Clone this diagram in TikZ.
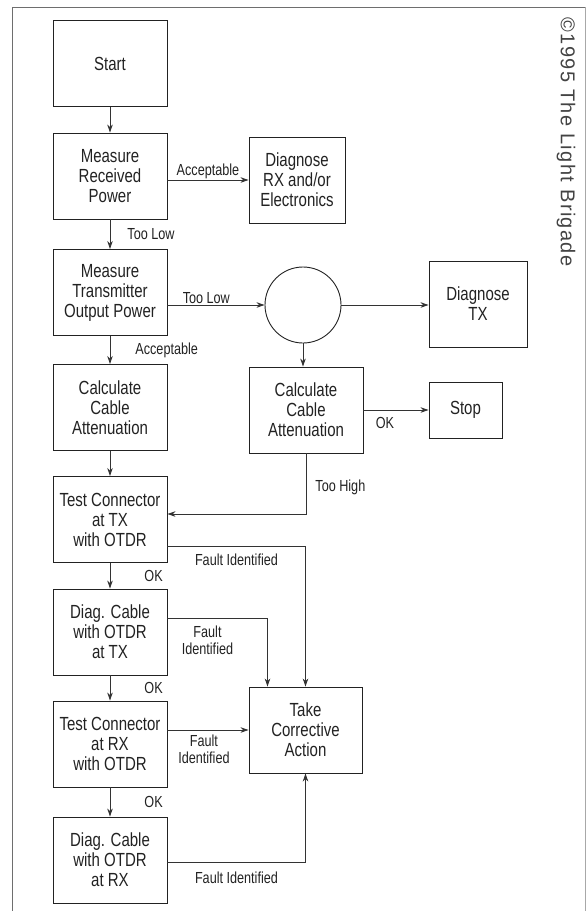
\documentclass[tikz,border=0pt]{standalone}
\usepackage{fontspec}
\setmainfont{Liberation Sans}
\newfontfamily\condfont[FakeStretch=0.79]{Liberation Sans}
\newfontfamily\markfont[LetterSpace=7]{Liberation Sans}
\usetikzlibrary{arrows.meta}
\definecolor{ink}{HTML}{222222}
\definecolor{wire}{HTML}{333333}
\definecolor{rule}{HTML}{6E6E6E}
\begin{document}
\begin{tikzpicture}[x=1pt, y=-1pt,
        b/.style={rectangle, draw=ink, line width=0.9pt, minimum width=114pt, minimum height=86pt,
                  align=center, inner sep=2pt, text=ink, font=\condfont\fontsize{19}{20}\selectfont},
        lbl/.style={inner sep=1pt, align=center, text=ink, font=\condfont\fontsize{16}{17.5}\selectfont},
        arr/.style={draw=wire, line width=0.85pt, -{Stealth[length=8pt, width=5.5pt]}}
    ]
        \useasboundingbox (0,0) rectangle (586,911);
        \draw[rule, line width=1pt] (12,911) -- (12,7) -- (585,7);
        \draw[rule!60, line width=1pt] (585,7) -- (585,911);
        \node[rotate=-90, text=ink!85, font=\markfont\fontsize{20}{20}\selectfont] (copy) at (566,142) {©1995 The Light Brigade};

        \node[b] (start) at (110,63.5)  {Start};
        \node[b] (mrp)   at (110,176)   {Measure\\Received\\Power};
        \node[b, minimum width=96pt] (drx) at (297,180) {Diagnose\\RX and/or\\Electronics};
        \node[b] (mtop)  at (110,292.5) {Measure\\Transmitter\\Output Power};
        \node[circle, draw=ink, line width=0.9pt, minimum size=76pt, inner sep=0pt] (dec) at (303,305) {};
        \node[b, minimum width=98pt] (dtx) at (478,304) {Diagnose\\TX};
        \node[b] (lcalc) at (110,407.5) {Calculate\\Cable\\Attenuation};
        \node[b] (rcalc) at (306,410)   {Calculate\\Cable\\Attenuation};
        \node[b, minimum width=73pt, minimum height=56pt] (stop) at (465.5,410) {Stop};
        \node[b] (tctx)  at (110,519.5) {Test Connector\\at TX\\with OTDR};
        \node[b] (dctx)  at (110,632)   {Diag. Cable\\with OTDR\\at TX};
        \node[b] (tcrx)  at (110,744)   {Test Connector\\at RX\\with OTDR};
        \node[b] (dcrx)  at (110,860)   {Diag. Cable\\with OTDR\\at RX};
        \node[b, minimum width=113pt] (act) at (305.5,730) {Take\\Corrective\\Action};

        \draw[arr] (start) -- (mrp);
        \draw[arr] (drx.west -| mrp.east) -- (drx.west) node[lbl, above, midway] {Acceptable};
        \draw[arr] (mrp) -- (mtop) node[lbl, right=16pt, midway] {Too Low};
        \draw[arr] (mtop.east |- dec.west) -- (dec.west) node[lbl, above, pos=0.4] {Too Low};
        \draw[arr] (dec.east) -- (dec.east -| dtx.west);
        \draw[arr] (dec.south) -- (dec.south |- rcalc.north);
        \draw[arr] (mtop) -- (lcalc) node[lbl, right=24pt, midway] {Acceptable};
        \draw[arr] (rcalc.east) -- (stop.west) node[lbl, below=6pt, pos=0.33] {OK};
        \draw[arr] (lcalc) -- (tctx);
        \draw[arr] (rcalc.south) |- ([yshift=5.5pt]tctx.east) node[lbl, right=8pt, pos=0.28] {Too High};
        \draw[arr] ([yshift=-26.5pt]tctx.east) -| (act.north) node[lbl, below=6pt, pos=0.25] {Fault Identified};
        \draw[arr] (tctx) -- (dctx) node[lbl, right=33pt, midway] {OK};
        \draw[arr] ([yshift=14pt]dctx.east) -| ([xshift=-38pt]act.north) node[lbl, below=6pt, pos=0.2] {Fault\\Identified};
        \draw[arr] (dctx) -- (tcrx) node[lbl, right=33pt, midway] {OK};
        \draw[arr] (tcrx.east |- act.west) -- (act.west) node[lbl, below=3pt, pos=0.45] {Fault\\Identified};
        \draw[arr] (tcrx) -- (dcrx) node[lbl, right=33pt, midway] {OK};
        \draw[arr] ([yshift=-2pt]dcrx.east) -| (act.south) node[lbl, below=8pt, pos=0.25] {Fault Identified};
    \end{tikzpicture}
\end{document}
